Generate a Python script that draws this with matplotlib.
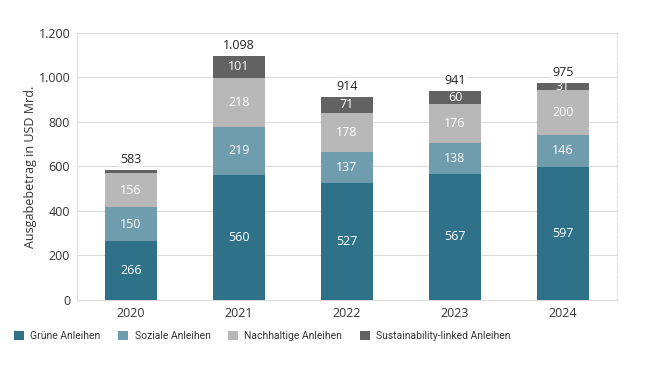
import numpy as np
import matplotlib.pyplot as plt
from matplotlib.ticker import FuncFormatter

# Data
years = ["2020", "2021", "2022", "2023", "2024"]
gruene = [266, 560, 527, 567, 597]
soziale = [150, 219, 137, 138, 146]
nachhaltige = [156, 218, 178, 176, 200]
sll = [11, 101, 71, 60, 31]
totals = [583, 1098, 914, 941, 975]

series = [
    ("Grüne Anleihen", gruene, "#2f7189"),
    ("Soziale Anleihen", soziale, "#6f9dad"),
    ("Nachhaltige Anleihen", nachhaltige, "#b8b8b8"),
    ("Sustainability-linked Anleihen", sll, "#626262"),
]

plt.rcParams['font.family'] = ['Open Sans', 'DejaVu Sans']

fig = plt.figure(figsize=(6.48, 3.65), dpi=100)
ax = fig.add_axes([0.119, 0.178, 0.833, 0.732])

x = np.arange(len(years))
bottom = np.zeros(len(years))
for name, vals, color in series:
    vals = np.array(vals)
    ax.bar(x, vals, 0.48, bottom=bottom, color=color, label=name, zorder=3)
    for xi, b, v in zip(x, bottom, vals):
        if v >= 25:
            ax.text(xi, b + v / 2, str(v), ha="center", va="center",
                    color="white", fontsize=9, zorder=4)
    bottom += vals

# Totals above bars
for xi, b, t in zip(x, bottom, totals):
    ax.text(xi, b + 18, f"{t:,}".replace(",", "."), ha="center", va="bottom",
            color="#222222", fontsize=9, zorder=4,
            bbox=dict(facecolor="white", edgecolor="none", pad=1))

ax.set_xlim(-0.5, 4.5)
ax.set_ylim(0, 1200)
ax.set_yticks(range(0, 1201, 200))
ax.yaxis.set_major_formatter(FuncFormatter(lambda v, p: f"{int(v):,}".replace(",", ".")))
ax.set_xticks(x)
ax.set_xticklabels(years)
ax.tick_params(length=0, labelsize=9, colors="#333333", pad=5)
ax.set_ylabel("Ausgabebetrag in USD Mrd.", fontsize=9, color="#333333", labelpad=1)

ax.grid(axis="y", color="#dddddd", linewidth=0.8, zorder=0)
for s in ["left", "bottom"]:
    ax.spines[s].set_color("#dddddd")
ax.spines["top"].set_visible(False)
ax.spines["right"].set_color("#dddddd")
ax.spines["right"].set_linestyle((0, (2, 2)))

fig.legend(loc="lower center", bbox_to_anchor=(0.405, 0.04), ncol=4, frameon=False,
           prop={"family": ["Roboto", "DejaVu Sans"], "size": 7.5},
           handlelength=0.95, handleheight=0.95, columnspacing=1.7,
           handletextpad=0.6, labelcolor="#333333")

fig.savefig("out.png", dpi=100)
